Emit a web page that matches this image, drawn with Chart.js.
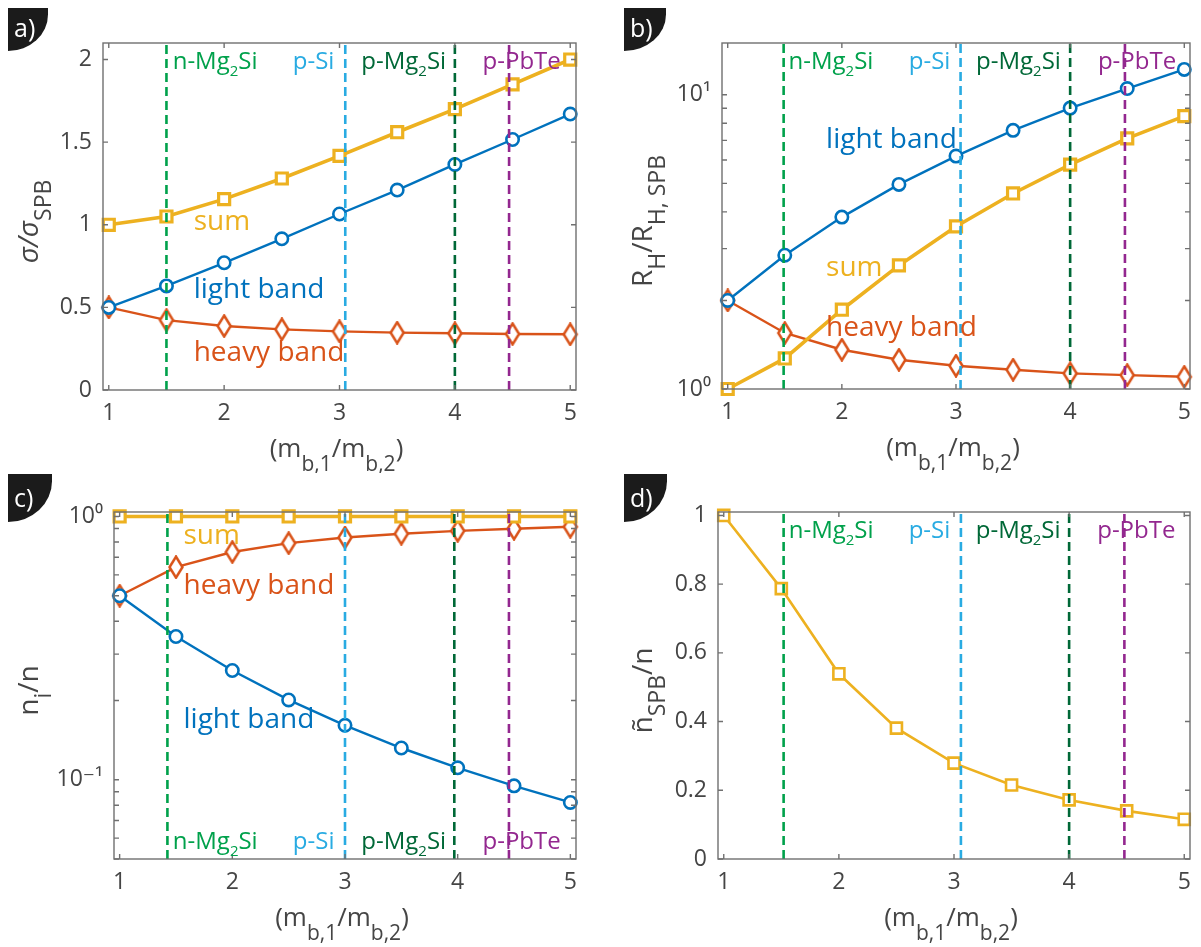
<!DOCTYPE html>
<html>
<head>
<meta charset="utf-8">
<script src="https://cdn.jsdelivr.net/npm/chart.js@4.4.1/dist/chart.umd.min.js"></script>
<style>
body { margin: 0; background: #fff; }
canvas { position: absolute; }
</style>
</head>
<body>
<canvas id="pa" width="600" height="473" style="left:0;top:0"></canvas>
<canvas id="pb" width="601" height="473" style="left:600px;top:0"></canvas>
<canvas id="pc" width="600" height="474" style="left:0;top:473px"></canvas>
<canvas id="pd" width="601" height="474" style="left:600px;top:473px"></canvas>
<script>
// effective mass ratio (x for every panel)
var mbRatio = [1, 1.5, 2, 2.5, 3, 3.5, 4, 4.5, 5];
var xTickVals = [1, 2, 3, 4, 5];

// a) sigma / sigma_SPB
var sigmaSum   = [1.00, 1.05, 1.155, 1.28, 1.417, 1.56, 1.70, 1.85, 2.00];
var sigmaLight = [0.50, 0.63, 0.77, 0.915, 1.065, 1.21, 1.365, 1.516, 1.67];
var sigmaHeavy = [0.50, 0.423, 0.387, 0.367, 0.355, 0.347, 0.343, 0.339, 0.337];

// b) R_H / R_H,SPB
var rhSum   = [1.00, 1.27, 1.86, 2.63, 3.57, 4.62, 5.79, 7.11, 8.46];
var rhLight = [2.00, 2.85, 3.84, 4.96, 6.19, 7.57, 9.01, 10.5, 12.2];
var rhHeavy = [2.00, 1.55, 1.36, 1.257, 1.20, 1.163, 1.13, 1.115, 1.10];

// c) n_i / n
var nSum   = [1, 1, 1, 1, 1, 1, 1, 1, 1];
var nHeavy = [0.50, 0.642, 0.733, 0.792, 0.832, 0.86, 0.882, 0.898, 0.914];
var nLight = [0.50, 0.35, 0.26, 0.201, 0.161, 0.132, 0.111, 0.0948, 0.082];

// d) n~_SPB / n
var nSpb = [1.00, 0.787, 0.539, 0.381, 0.279, 0.2155, 0.172, 0.14, 0.1155];

// material reference lines
var materialNames = ['n-Mg_{2}Si', 'p-Si', 'p-Mg_{2}Si', 'p-PbTe'];
var matA = [1.5, 3.05, 4.0, 4.47];
var matB = [1.49, 3.04, 4.0, 4.48];
var matC = [1.424, 3.0, 3.97, 4.455];
var matD = [1.52, 3.06, 4.0, 4.48];

// y ticks
var aTicks = [0, 0.5, 1, 1.5, 2];
var bTicks = [1, 2, 3, 4, 5, 6, 7, 8, 9, 10];
var cTicks = [0.05, 0.06, 0.07, 0.08, 0.09, 0.1, 0.2, 0.3, 0.4, 0.5, 0.6, 0.7, 0.8, 0.9, 1];
var dTicks = [0, 0.2, 0.4, 0.6, 0.8, 1];
var logTickLabels = { '0.1': '10⁻¹', '1': '10⁰', '10': '10¹' };

var BLUE = '#0072BD', ORANGE = '#D95319', YELLOW = '#EDB120';
var materialColors = ['#00a14b', '#29abe2', '#006837', '#93278f'];
var AXIS = '#707070', TEXT = '#454545', FONT = '"Open Sans", "DejaVu Sans", sans-serif';

function diamondImage(color) {
    var c = document.createElement('canvas');
    c.width = 18; c.height = 24;
    var g = c.getContext('2d');
    g.beginPath();
    g.moveTo(9, 1.5); g.lineTo(15.5, 12); g.lineTo(9, 22.5); g.lineTo(2.5, 12);
    g.closePath();
    g.fillStyle = '#fff'; g.fill();
    g.lineWidth = 2.5; g.strokeStyle = color; g.stroke();
    return c;
}
var diamond = diamondImage(ORANGE);

function getSeries(ys, color, style, lineWidth, order) {
    return {
        data: mbRatio.map(function (x, i) { return { x: x, y: ys[i] }; }),
        borderColor: color,
        borderWidth: lineWidth,
        pointStyle: style,
        pointRadius: style === 'circle' ? 6.2 : 7.8,
        pointBorderWidth: style === 'circle' ? 2.6 : (lineWidth > 3 ? 3.2 : 2.6),
        pointBorderColor: color,
        pointBackgroundColor: '#fff',
        tension: 0,
        fill: false,
        clip: false,
        order: order
    };
}

function getRefLines(xs, ymin, ymax) {
    return xs.map(function (xv, i) {
        return {
            data: [{ x: xv, y: ymin }, { x: xv, y: ymax }],
            borderColor: materialColors[i],
            borderWidth: 2.6,
            borderDash: [9, 5],
            pointRadius: 0,
            order: 0
        };
    });
}

function parseRich(s) {
    var out = [], re = /_\{([^}]*)\}/g, last = 0, m;
    while ((m = re.exec(s))) {
        if (m.index > last) out.push({ t: s.slice(last, m.index), sub: false });
        out.push({ t: m[1], sub: true });
        last = re.lastIndex;
    }
    if (last < s.length) out.push({ t: s.slice(last), sub: false });
    return out;
}

function drawRich(ctx, s, x, y, size, subScale, shift, align, color) {
    var parts = parseRich(s), w = 0;
    function font(p) {
        var sz = p.sub ? Math.round(size * subScale) : size;
        return (p.t.indexOf('σ') >= 0 ? 'italic ' : '') + sz + 'px ' + FONT;
    }
    parts.forEach(function (p) { ctx.font = font(p); p.w = ctx.measureText(p.t).width; w += p.w; });
    var cx = align === 'center' ? x - w / 2 : x;
    ctx.fillStyle = color;
    ctx.textAlign = 'left';
    ctx.textBaseline = 'alphabetic';
    parts.forEach(function (p) {
        ctx.font = font(p);
        ctx.fillText(p.t, cx, y + (p.sub ? shift : 0));
        cx += p.w;
    });
}

var deco = {
    id: 'deco',
    afterDatasetsDraw: function (chart, args, o) {
        var ctx = chart.ctx, a = chart.chartArea, xs = chart.scales.x, ys = chart.scales.y;
        ctx.save();
        // box with inward ticks
        ctx.strokeStyle = AXIS;
        ctx.lineWidth = 1.4;
        ctx.strokeRect(a.left, a.top, a.right - a.left, a.bottom - a.top);
        ctx.beginPath();
        xs.ticks.forEach(function (t) {
            var p = xs.getPixelForValue(t.value);
            ctx.moveTo(p, a.bottom); ctx.lineTo(p, a.bottom - 5);
            ctx.moveTo(p, a.top); ctx.lineTo(p, a.top + 5);
        });
        ys.ticks.forEach(function (t) {
            var p = ys.getPixelForValue(t.value);
            ctx.moveTo(a.left, p); ctx.lineTo(a.left + 5, p);
            ctx.moveTo(a.right, p); ctx.lineTo(a.right - 5, p);
        });
        ctx.stroke();

        // material names
        o.matLabelX.forEach(function (v, i) {
            var py = o.matBottom ? a.bottom - 10 : a.top + 26;
            drawRich(ctx, materialNames[i], xs.getPixelForValue(v), py, 24, 0.62, 7, 'left', materialColors[i]);
        });

        // series names
        (o.labels || []).forEach(function (l) {
            ctx.font = '28px ' + FONT;
            ctx.fillStyle = l.color;
            ctx.textAlign = 'left';
            ctx.textBaseline = 'middle';
            ctx.fillText(l.text, xs.getPixelForValue(l.x), ys.getPixelForValue(l.y));
        });

        // axis titles
        drawRich(ctx, '(m_{b,1}/m_{b,2})', (a.left + a.right) / 2 - 3, a.bottom + 67, 26, 0.82, 14, 'center', TEXT);
        ctx.save();
        ctx.translate(o.yTitleX, (a.top + a.bottom) / 2 + 5);
        ctx.rotate(-Math.PI / 2);
        drawRich(ctx, o.yTitle, 0, 0, 28, 0.82, 13, 'center', TEXT);
        ctx.restore();

        // panel tab
        var t = o.tab;
        ctx.beginPath();
        ctx.moveTo(t.x, t.y);
        ctx.lineTo(t.x + t.w, t.y);
        ctx.ellipse(t.x, t.y + t.h * 0.15, t.w, t.h * 0.85, 0, 0, Math.PI / 2);
        ctx.closePath();
        ctx.fillStyle = '#1b1b1b';
        ctx.fill();
        ctx.font = '25px ' + FONT;
        ctx.fillStyle = '#fff';
        ctx.textAlign = 'left';
        ctx.textBaseline = 'alphabetic';
        ctx.fillText(t.text, t.x + 6, t.y + t.h * 0.68);
        ctx.restore();
    }
};

function createPanel(id, area, yAxis, datasets, deco) {
    var el = document.getElementById(id);
    var W = el.width, H = el.height;
    return new Chart(el, {
        type: 'line',
        data: { datasets: datasets },
        plugins: [window.decoPlugin],
        options: {
            responsive: false,
            animation: false,
            devicePixelRatio: 1,
            layout: { padding: { left: 0, top: area.top, right: W - area.right, bottom: H - area.bottom - 40 } },
            plugins: { legend: { display: false }, tooltip: { enabled: false }, deco: deco },
            scales: {
                x: {
                    type: 'linear', min: 0.95, max: 5.05,
                    afterBuildTicks: function (s) { s.ticks = xTickVals.map(function (v) { return { value: v }; }); },
                    afterFit: function (s) { s.height = 40; },
                    grid: { display: false, drawTicks: false },
                    border: { display: false },
                    ticks: { color: TEXT, font: { family: FONT, size: 23 }, padding: 10, autoSkip: false, maxRotation: 0,
                        callback: function (v) { return String(v); } }
                },
                y: {
                    type: yAxis.type, min: yAxis.min, max: yAxis.max,
                    afterBuildTicks: function (s) { s.ticks = yAxis.ticks.map(function (v) { return { value: v }; }); },
                    afterFit: function (s) { s.width = area.left; },
                    grid: { display: false, drawTicks: false },
                    border: { display: false },
                    ticks: { color: TEXT, font: { family: FONT, size: 23 }, padding: 11, autoSkip: false,
                        callback: function (v) {
                            if (yAxis.type === 'logarithmic') return logTickLabels[String(v)] || '';
                            return String(v);
                        } }
                }
            }
        }
    });
}

window.decoPlugin = deco;

createPanel('pa', { left: 103, right: 576, top: 43, bottom: 390 },
    { type: 'linear', min: 0, max: 2.1, ticks: aTicks },
    getRefLines(matA, 0, 2.1).concat([
        getSeries(sigmaHeavy, ORANGE, diamond, 2.4, 3),
        getSeries(sigmaLight, BLUE, 'circle', 2.4, 2),
        getSeries(sigmaSum, YELLOW, 'rect', 3.6, 1)
    ]),
    {
        matLabelX: [1.554, 2.595, 3.189, 4.24], matBottom: false,
        labels: [
            { text: 'sum', x: 1.736, y: 1.018, color: YELLOW },
            { text: 'light band', x: 1.736, y: 0.605, color: BLUE },
            { text: 'heavy band', x: 1.736, y: 0.224, color: ORANGE }
        ],
        yTitle: 'σ/σ_{SPB}', yTitleX: 38,
        tab: { x: 8, y: 8, w: 40, h: 43, text: 'a)' }
    });

createPanel('pb', { left: 122, right: 590, top: 43, bottom: 389 },
    { type: 'logarithmic', min: 1, max: 15, ticks: bTicks },
    getRefLines(matB, 1, 15).concat([
        getSeries(rhHeavy, ORANGE, diamond, 2.4, 3),
        getSeries(rhLight, BLUE, 'circle', 2.4, 2),
        getSeries(rhSum, YELLOW, 'rect', 3.6, 1)
    ]),
    {
        matLabelX: [1.533, 2.586, 3.176, 4.243], matBottom: false,
        labels: [
            { text: 'light band', x: 1.862, y: 7.0, color: BLUE },
            { text: 'sum', x: 1.862, y: 2.57, color: YELLOW },
            { text: 'heavy band', x: 1.862, y: 1.61, color: ORANGE }
        ],
        yTitle: 'R_{H}/R_{H, SPB}', yTitleX: 52,
        tab: { x: 24, y: 8, w: 42, h: 43, text: 'b)' }
    });

createPanel('pc', { left: 114, right: 576, top: 39, bottom: 386 },
    { type: 'logarithmic', min: 0.05, max: 1.04, ticks: cTicks },
    getRefLines(matC, 0.05, 1.04).concat([
        getSeries(nHeavy, ORANGE, diamond, 2.4, 3),
        getSeries(nLight, BLUE, 'circle', 2.4, 2),
        getSeries(nSum, YELLOW, 'rect', 3.6, 1)
    ]),
    {
        matLabelX: [1.472, 2.537, 3.145, 4.22], matBottom: true,
        labels: [
            { text: 'sum', x: 1.567, y: 0.84, color: YELLOW },
            { text: 'heavy band', x: 1.567, y: 0.542, color: ORANGE },
            { text: 'light band', x: 1.567, y: 0.169, color: BLUE }
        ],
        yTitle: 'n_{i}/n', yTitleX: 38,
        tab: { x: 8, y: 1, w: 44, h: 48, text: 'c)' }
    });

createPanel('pd', { left: 118, right: 590, top: 39, bottom: 386 },
    { type: 'linear', min: 0, max: 1.01, ticks: dTicks },
    getRefLines(matD, 0, 1.01).concat([
        getSeries(nSpb, YELLOW, 'rect', 2.6, 1)
    ]),
    {
        matLabelX: [1.564, 2.606, 3.189, 4.244], matBottom: false,
        labels: [],
        yTitle: 'ñ_{SPB}/n', yTitleX: 52,
        tab: { x: 24, y: 1, w: 43, h: 48, text: 'd)' }
    });
</script>
</body>
</html>
